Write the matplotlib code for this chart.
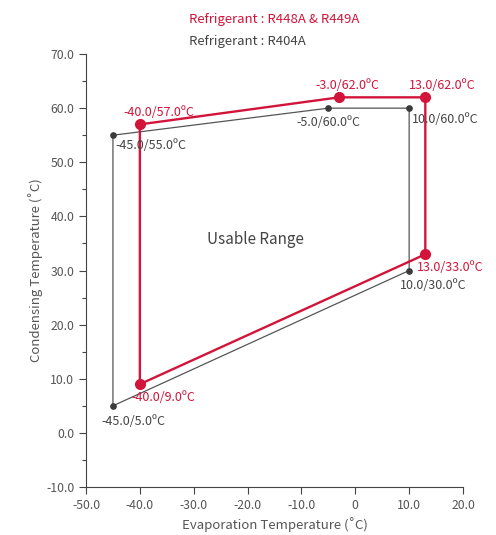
import matplotlib
matplotlib.use('Agg')
import matplotlib.pyplot as plt
from matplotlib.ticker import MultipleLocator

plt.rcParams['font.family'] = ['Noto Sans CJK KR', 'DejaVu Sans']

# R448A & R449A envelope
red_x = [-40.0, -3.0, 13.0, 13.0, -40.0]
red_y = [57.0, 62.0, 62.0, 33.0, 9.0]
# R404A envelope
gray_x = [-45.0, -5.0, 10.0, 10.0, -45.0]
gray_y = [55.0, 60.0, 60.0, 30.0, 5.0]

# label offsets (points) for each corner
red_off = [(-11.5, 8.5), (-17.3, 8.5), (-11.5, 8.5), (-6, -9.5), (-5.8, -9.5)]
gray_off = [(2, -7.5), (-23, -10), (2, -8), (-7, -11), (-8, -11)]

x_ticks = [-50, -40, -30, -20, -10, 0, 10, 20]
x_labels = ['-50.0', '-40.0', '-30.0', '-20.0', '-10.0', '0', '10.0', '20.0']
y_ticks = [-10, 0, 10, 20, 30, 40, 50, 60, 70]
y_labels = ['-10.0', '0.0', '10.0', '20.0', '30.0', '40.0', '50.0', '60.0', '70.0']

RED = '#d2143a'
DARK = '#3a3a3a'
TXT = '#555555'

fig = plt.figure(figsize=(4.96, 5.35), dpi=100)
ax = fig.add_axes([0.1734, 0.0897, 0.7601, 0.8093])

ax.plot(gray_x + gray_x[:1], gray_y + gray_y[:1], color='#555555', lw=0.9, zorder=2)
ax.plot(gray_x, gray_y, 'o', color=DARK, ms=3.8, zorder=3)
ax.plot(red_x + red_x[:1], red_y + red_y[:1], color=RED, lw=1.7, zorder=4)
ax.plot(red_x, red_y, 'o', color=RED, ms=7, zorder=5)

def fmt(x, y):
    return '%.1f/%.1fºC' % (x, y)

for x, y, off in zip(gray_x, gray_y, gray_off):
    ax.annotate(fmt(x, y), (x, y), xytext=off, textcoords='offset points',
                ha='left', va='center', color='#444444', fontsize=9, zorder=6)
for x, y, off in zip(red_x, red_y, red_off):
    ax.annotate(fmt(x, y), (x, y), xytext=off, textcoords='offset points',
                ha='left', va='center', color=RED, fontsize=9, zorder=6)

ax.text(-18.6, 35.8, 'Usable Range', ha='center', va='center', fontsize=11, color='#444444')

ax.set_xlim(-50, 20)
ax.set_ylim(-10, 70)
ax.set_xticks(x_ticks)
ax.set_xticklabels(x_labels)
ax.set_yticks(y_ticks)
ax.set_yticklabels(y_labels)
ax.yaxis.set_minor_locator(MultipleLocator(5))
ax.tick_params(colors='#444444', labelcolor=TXT, labelsize=8.8, length=5, width=0.8)
ax.tick_params(axis='y', which='minor', length=3, width=0.8, colors='#444444')
for s in ['top', 'right']:
    ax.spines[s].set_visible(False)
for s in ['left', 'bottom']:
    ax.spines[s].set_color('#444444')
    ax.spines[s].set_linewidth(0.8)

ax.set_xlabel('Evaporation Temperature (˚C)', fontsize=9.5, color=TXT, labelpad=4)
ax.set_ylabel('Condensing Temperature (˚C)', fontsize=9.5, color=TXT, labelpad=2)

fig.text(189 / 496, 1 - 20 / 535, 'Refrigerant : R448A & R449A', color=RED,
         fontsize=9.5, ha='left', va='center')
fig.text(189 / 496, 1 - 41 / 535, 'Refrigerant : R404A', color='#444444',
         fontsize=9.5, ha='left', va='center')

fig.savefig('out.png', dpi=100)
